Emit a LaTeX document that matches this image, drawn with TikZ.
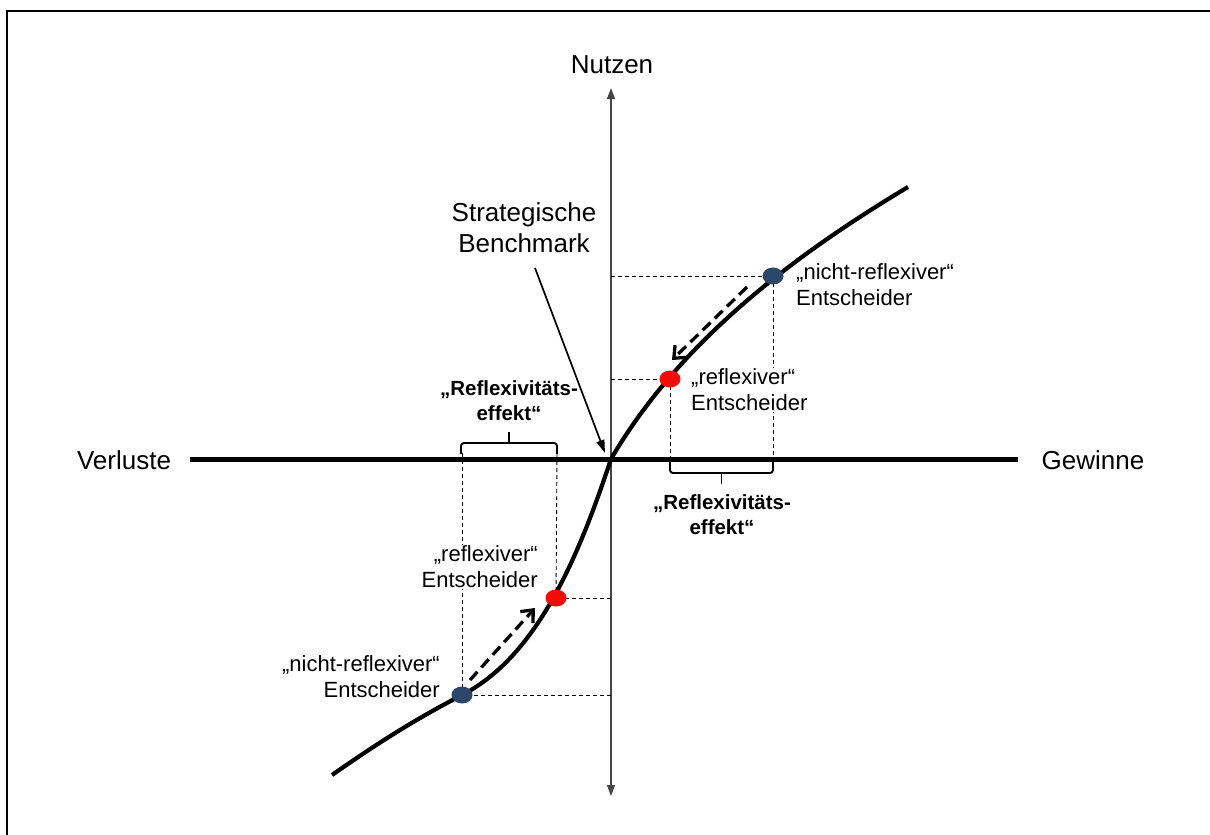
\documentclass[tikz,border=0pt]{standalone}
\usepackage{fontspec}
\setmainfont{Liberation Sans}
\usetikzlibrary{arrows.meta,shapes.geometric}
\definecolor{dotblue}{RGB}{44,70,105}
\definecolor{dotred}{RGB}{245,10,10}
\definecolor{axisgray}{RGB}{70,70,70}
\tikzset{
  biglabel/.style={font=\fontsize{26}{31}\selectfont, inner sep=1pt, align=center},
  smalllabel/.style={font=\fontsize{22}{26}\selectfont, inner sep=1pt, fill=white},
  boldlabel/.style={font=\fontsize{20.5}{25}\selectfont\bfseries, inner sep=1pt, align=center},
  helpline/.style={line width=0.9pt, dash pattern=on 4pt off 3pt},
  movearrow/.style={line width=3.3pt, dash pattern=on 11pt off 6pt, -{Straight Barb[length=10pt,width=17pt,line width=3.3pt]}},
  bracket/.style={line width=1.9pt, rounded corners=3pt},
  dotnode/.style={ellipse, minimum width=21pt, minimum height=17pt, inner sep=0pt},
}
\begin{document}
\begin{tikzpicture}[x=1pt,y=-1pt]
\useasboundingbox (0,0) rectangle (1210,835);
% frame
\draw[line width=2.5pt] (7,835) -- (7,11) -- (1210,11);

% axes
\coordinate (O) at (611,459);
\coordinate (ytop) at (611,88);
\coordinate (ybot) at (611,796);
\coordinate (xl) at (190,459);
\coordinate (xr) at (1018,459);
\draw[axisgray, line width=1.5pt, {Triangle[length=11pt,width=8pt]}-{Triangle[length=11pt,width=8pt]}] (ybot) -- (ytop);
\draw[line width=5pt] (xl) -- (xr);

\node[biglabel] (nutzen) at (612,65) {Nutzen};
\node[biglabel] (verluste) at (124,460) {Verluste};
\node[biglabel] (gewinne) at (1093,460) {Gewinne};

% dots positions
\coordinate (bU) at (773,276);
\coordinate (rU) at (670,379);
\coordinate (rL) at (556,598);
\coordinate (bL) at (462,695);

% helper dashed lines
\draw[helpline] (611,276) -- (bU);
\draw[helpline] (bU) -- (773,463);
\draw[helpline] (611,379) -- (rU);
\draw[helpline] (rU) -- (670,463);
\draw[helpline] (611,598) -- (rL);
\draw[helpline] (rL) -- (557,453);
\draw[helpline] (611,695) -- (bL);
\draw[helpline] (bL) -- (462,453);

% labels covering helper lines
\node[smalllabel, anchor=west, align=left] (nrU) at (795,285) {„nicht-reflexiver“\\Entscheider};
\node[smalllabel, anchor=west, align=left] (rUl) at (690,390) {„reflexiver“\\Entscheider};
\node[smalllabel, anchor=east, align=right] (rLl) at (539,567) {„reflexiver“\\Entscheider};
\node[smalllabel, anchor=east, align=right] (nrL) at (441,677) {„nicht-reflexiver“\\Entscheider};

% curve
\draw[line width=4.2pt]
  (332,775) .. controls (375,745) and (412,721) .. (bL)
  .. controls (540,655) and (581,549) .. (O)
  .. controls (681,339) and (798,253) .. (908,187);

% dots
\node[dotnode, fill=dotblue] (dbU) at (bU) {};
\node[dotnode, fill=dotred] (drU) at (rU) {};
\node[dotnode, fill=dotred] (drL) at (rL) {};
\node[dotnode, fill=dotblue] (dbL) at (bL) {};

% movement arrows
\coordinate (mU1) at (747,287);
\coordinate (mU2) at (672,360);
\coordinate (mL1) at (470,680);
\coordinate (mL2) at (535,608);
\draw[movearrow] (mU1) -- (mU2);
\draw[movearrow] (mL1) -- (mL2);

% brackets
\draw[bracket] (670,462) -- (670,473) -- (773,473) -- (773,462);
\draw[line width=1.9pt] (721.5,473) -- (721.5,484);
\draw[bracket] (461,454) -- (461,443) -- (557,443) -- (557,454);
\draw[line width=1.9pt] (509,443) -- (509,432);

\node[boldlabel] (refR) at (722,515) {„Reflexivitäts-\\effekt“};
\node[boldlabel] (refL) at (509,401) {„Reflexivitäts-\\effekt“};

% strategic benchmark
\node[biglabel] (bench) at (524,228) {Strategische\\Benchmark};
\coordinate (bstart) at (535,268);
\draw[line width=1.7pt, -{Triangle[length=13pt,width=8pt]}] (bstart) -- (605,453);
\end{tikzpicture}
\end{document}
